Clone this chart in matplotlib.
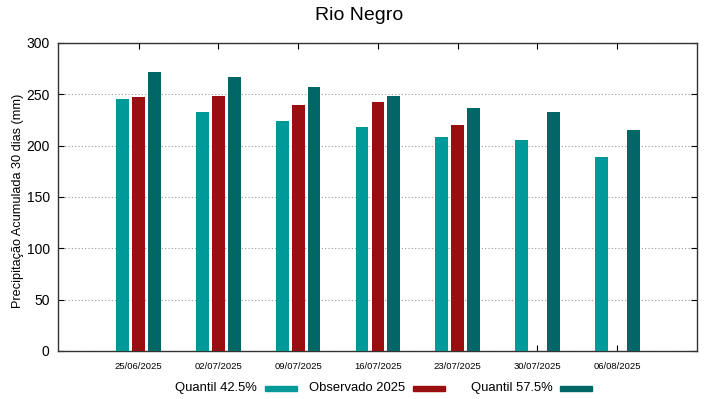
import matplotlib
matplotlib.use("Agg")
import matplotlib.pyplot as plt
from matplotlib.patches import Rectangle
import numpy as np

plt.rcParams['font.family'] = ['Liberation Sans', 'DejaVu Sans']

# --- data ---
datas = ["25/06/2025", "02/07/2025", "09/07/2025", "16/07/2025",
         "23/07/2025", "30/07/2025", "06/08/2025"]
quantil_425 = [245.4, 233.0, 224.0, 218.0, 208.8, 205.8, 189.3]
observado = [247.7, 248.7, 240.0, 243.0, 220.4, np.nan, np.nan]
quantil_575 = [271.7, 267.0, 257.0, 248.4, 237.0, 232.5, 215.0]

series_names = ["Quantil 42.5%", "Observado 2025", "Quantil 57.5%"]
cores = ["#009999", "#990f0f", "#006666"]

fig = plt.figure(figsize=(7.19, 3.99), dpi=100)
ax = fig.add_axes([58 / 719, 1 - 351 / 399, (697 - 58) / 719, (351 - 43) / 399])

x = np.arange(len(datas))
w = 0.16
for off, vals, c in zip([-0.2, 0.0, 0.2], [quantil_425, observado, quantil_575], cores):
    ax.bar(x + off, vals, width=w, color=c, zorder=3)

ax.set_xlim(-1.01, 7.0)
ax.set_ylim(0, 300)
ax.set_yticks(np.arange(0, 301, 50))
ax.set_xticks(x)
ax.set_xticklabels(datas, fontsize=6.8)
ax.tick_params(axis='y', labelsize=10, direction='in', right=True, length=4, pad=6)
ax.tick_params(axis='x', direction='in', top=True, length=4, pad=8)
ax.grid(axis='y', color='#999999', linestyle=(0, (1, 2)), linewidth=0.8, zorder=0)
for s in ax.spines.values():
    s.set_linewidth(1.0)
    s.set_color('#333333')

ax.set_ylabel("Precipitação Acumulada 30 dias (mm)", fontsize=9.2)
ax.yaxis.set_label_coords((24 - 58) / 639, (351 - 201) / 308)
fig.text(0.5, 1 - 16 / 399, "Rio Negro", ha='center', va='center', fontsize=14)

# --- legenda estilo gnuplot: texto e depois amostra ---
leg_text_x = [257, 405, 553]
leg_box_x = [265, 413, 560]
y_leg = 1 - 388 / 399
for nome, c, tx, bx in zip(series_names, cores, leg_text_x, leg_box_x):
    fig.text(tx / 719, y_leg, nome, ha='right', va='center', fontsize=9.4)
    fig.patches.append(Rectangle((bx / 719, 1 - 391 / 399), 32 / 719, 5 / 399,
                                 transform=fig.transFigure, color=c, figure=fig))

fig.savefig("out.png", dpi=100)
